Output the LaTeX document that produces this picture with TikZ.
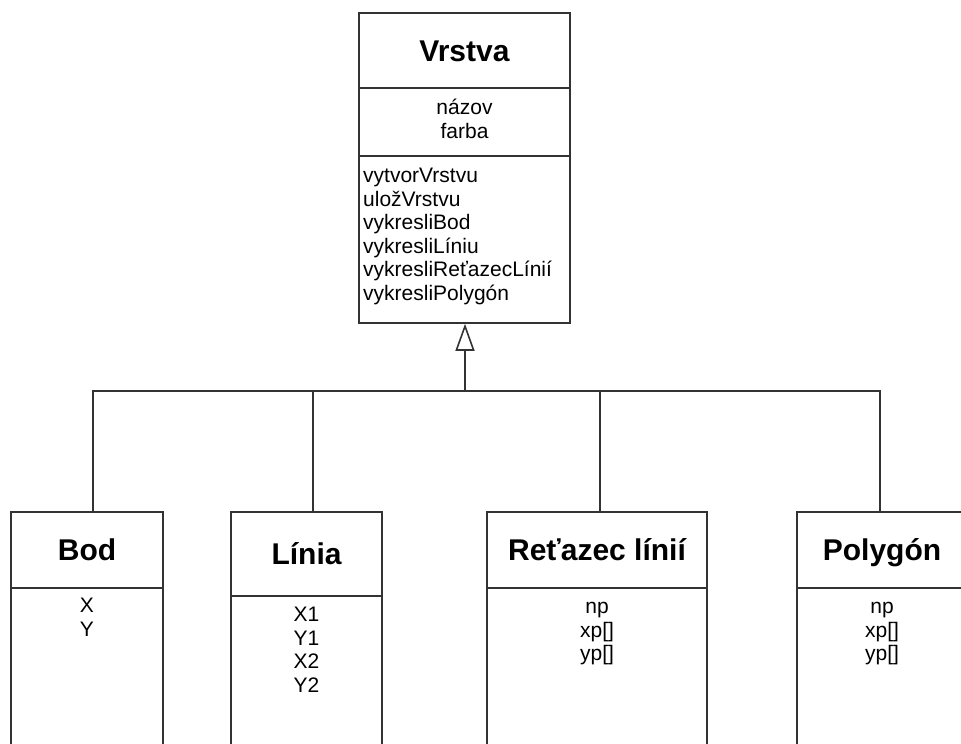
\documentclass[tikz,border=0pt]{standalone}
\usepackage{fontspec}
\setmainfont{Liberation Sans}
\usetikzlibrary{arrows.meta}

\tikzset{
  box/.style={draw=black!80, line width=1.6pt, rectangle, inner sep=0pt},
  classname/.style={font=\fontsize{30}{34}\selectfont\bfseries, text height=21pt, text depth=0pt},
  attrs/.style={anchor=north, inner sep=0pt, align=center, font=\fontsize{21}{23.5}\selectfont},
  meths/.style={anchor=north west, inner sep=0pt, align=left, font=\fontsize{21}{23.5}\selectfont},
  link/.style={draw=black!80, line width=1.6pt},
}

\begin{document}
\begin{tikzpicture}[x=1pt,y=-1pt]
    \useasboundingbox (0,0) rectangle (961,744);
    \clip (0,0) rectangle (961,744);

    % Vrstva
    \node[box, classname, minimum width=211pt, minimum height=75pt] (vrstva) at (464.5,50.5) {Vrstva};
    \node[box, minimum width=211pt, minimum height=68pt] (vrstvaAttr) at (464.5,122) {};
    \node[box, minimum width=211pt, minimum height=167pt] (vrstvaMeth) at (464.5,239.5) {};
    \node[attrs] (vrstvaAttrText) at (464.5,99) {názov\\farba};
    \node[meths] (vrstvaMethText) at (363,168) {vytvorVrstvu\\uložVrstvu\\vykresliBod\\vykresliLíniu\\vykresliReťazecLínií\\vykresliPolygón};

    % Bod
    \node[box, classname, minimum width=152pt, minimum height=76pt] (bod) at (87,550) {Bod};
    \node[box, minimum width=152pt, minimum height=212pt] (bodAttr) at (87,694) {};
    \node[attrs] (bodAttrText) at (87,598) {X\\Y};

    % Linia
    \node[box, classname, minimum width=151pt, minimum height=84pt] (linia) at (306.5,554) {Línia};
    \node[box, minimum width=151pt, minimum height=204pt] (liniaAttr) at (306.5,698) {};
    \node[attrs] (liniaAttrText) at (306.5,607) {X1\\Y1\\X2\\Y2};

    % Retazec linii
    \node[box, classname, minimum width=220pt, minimum height=76pt] (retazec) at (597,550) {Reťazec línií};
    \node[box, minimum width=220pt, minimum height=212pt] (retazecAttr) at (597,694) {};
    \node[attrs] (retazecAttrText) at (597,602) {np\\xp[]\\yp[]};

    % Polygon
    \node[box, classname, minimum width=170pt, minimum height=76pt] (polygon) at (882,550) {Polygón};
    \node[box, minimum width=170pt, minimum height=212pt] (polygonAttr) at (882,694) {};
    \node[attrs] (polygonAttrText) at (882,602) {np\\xp[]\\yp[]};

    \coordinate (bus) at (465,391);

    % Bod, Polygon -> bus
    \draw[link] ([xshift=6pt]bod.north) |- (bus) -| ([xshift=-2pt]polygon.north);
    % Linia, Retazec -> bus
    \draw[link] ([xshift=6.5pt]linia.north) -- ([xshift=6.5pt]linia.north |- bus);
    \draw[link] ([xshift=3pt]retazec.north) -- ([xshift=3pt]retazec.north |- bus);

    % bus -> Vrstva
    \draw[link, -{Triangle[open, length=27pt, width=19pt]}] (bus) -- ([xshift=0.5pt]vrstvaMeth.south);
\end{tikzpicture}
\end{document}
